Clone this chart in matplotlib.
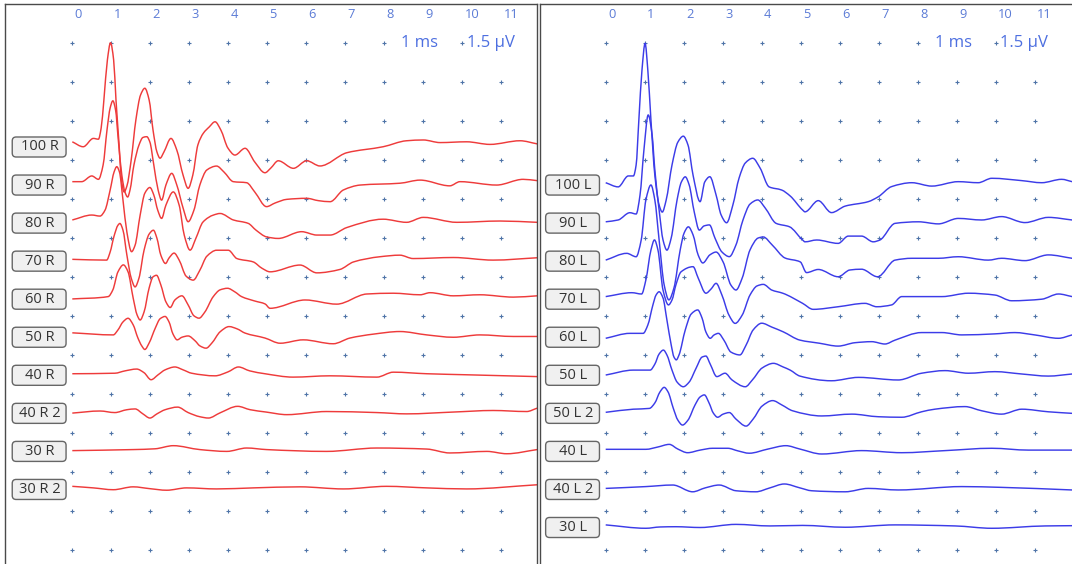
import numpy as np
import matplotlib
matplotlib.use("Agg")
import matplotlib.pyplot as plt
from matplotlib.patches import FancyBboxPatch, PathPatch
from matplotlib.path import Path

plt.rcParams['font.family'] = ['Open Sans', 'DejaVu Sans']

# ---- data: (latency ms, amplitude uV) ----
# right ear (red)
r100 = [(0.0, 0.20), (0.28, 0.01), (0.54, 0.33), (0.67, 0.30), (0.74, 0.73), (0.81, 1.81), (0.90, 3.35),
        (0.98, 4.01), (1.06, 3.35), (1.12, 1.81), (1.20, 0.08), (1.26, -1.27), (1.33, -1.73), (1.40, -1.50),
        (1.51, -0.50), (1.63, 1.04), (1.75, 2.00), (1.86, 2.26), (1.97, 1.81), (2.07, 0.65), (2.17, -0.19),
        (2.25, -0.43), (2.35, -0.19), (2.53, 0.33), (2.68, -0.12), (2.84, -1.08), (2.97, -1.59), (3.09, -1.08),
        (3.22, 0.08), (3.36, 0.53), (3.51, 0.77), (3.66, 0.97), (3.81, 0.65), (3.99, -0.04), (4.17, -0.31),
        (4.43, -0.05), (4.68, -0.58), (4.94, -0.99), (5.09, -0.81), (5.28, -0.53), (5.67, -0.82), (6.01, -0.53),
        (6.35, -0.73), (7.04, -0.22), (7.97, 0.01), (8.57, 0.24), (9.00, 0.27), (9.43, 0.17), (10.11, 0.20),
        (10.71, 0.10), (11.48, 0.24), (11.92, 0.12)]
r90 = [(0.0, 0.13), (0.24, 0.13), (0.50, 0.35), (0.67, 0.22), (0.79, 0.77), (0.89, 2.12), (0.97, 2.96),
       (1.04, 3.24), (1.11, 2.88), (1.18, 1.73), (1.27, 0.38), (1.35, -0.27), (1.42, -0.46), (1.48, -0.19),
       (1.58, 0.77), (1.71, 1.54), (1.81, 1.83), (1.91, 1.86), (1.99, 1.65), (2.09, 0.77), (2.20, -0.19),
       (2.29, -0.58), (2.40, 0.00), (2.55, 0.45), (2.68, 0.00), (2.84, -0.88), (2.97, -1.41), (3.12, -0.96),
       (3.27, 0.00), (3.45, 0.58), (3.70, 0.73), (3.89, 0.50), (4.13, 0.13), (4.47, 0.09), (4.68, -0.27),
       (4.98, -0.83), (5.20, -0.69), (5.50, -0.55), (6.01, -0.51), (6.31, -0.60), (6.61, -0.64), (6.95, -0.19),
       (7.38, 0.00), (8.40, 0.07), (8.92, 0.19), (9.68, -0.03), (9.94, 0.13), (10.88, 0.00), (11.56, 0.22),
       (11.92, 0.17)]
r80 = [(0.0, 0.12), (0.50, 0.31), (0.71, 0.27), (0.84, 0.50), (0.97, 1.27), (1.07, 1.96), (1.14, 2.17),
       (1.21, 1.96), (1.30, 0.88), (1.40, -0.35), (1.52, -1.10), (1.61, -0.85), (1.74, 0.31), (1.86, 1.15),
       (1.99, 1.37), (2.09, 1.08), (2.19, 0.50), (2.29, 0.18), (2.40, 0.69), (2.59, 1.20), (2.74, 0.69),
       (2.87, -0.46), (3.02, -1.04), (3.17, -0.58), (3.35, 0.04), (3.62, 0.31), (3.79, 0.37), (4.13, 0.12),
       (4.51, -0.01), (4.71, -0.27), (4.98, -0.53), (5.28, -0.59), (5.88, -0.33), (6.27, -0.46), (6.61, -0.46),
       (7.04, -0.17), (7.97, 0.15), (8.57, 0.03), (9.00, 0.22), (9.86, 0.03), (10.97, 0.08), (11.92, 0.03)]
r70 = [(0.0, 0.07), (0.88, 0.04), (0.97, 0.35), (1.07, 0.96), (1.17, 1.38), (1.22, 1.45), (1.30, 1.19),
       (1.40, 0.23), (1.51, -0.65), (1.61, -0.99), (1.71, -0.65), (1.84, 0.42), (1.97, 1.04), (2.08, 1.19),
       (2.17, 0.88), (2.27, 0.23), (2.39, -0.09), (2.48, 0.12), (2.61, 0.31), (2.74, 0.04), (2.92, -0.58),
       (3.10, -0.73), (3.27, -0.35), (3.45, 0.19), (3.70, 0.42), (4.00, 0.42), (4.22, 0.10), (4.64, -0.03),
       (4.86, -0.27), (5.07, -0.41), (5.84, -0.15), (6.27, -0.45), (6.86, -0.32), (7.21, -0.03), (7.89, 0.17),
       (8.40, 0.23), (8.74, 0.10), (9.77, 0.14), (10.79, 0.04), (11.92, 0.13)]
r60 = [(0.0, 0.01), (0.92, 0.10), (1.04, 0.36), (1.17, 1.05), (1.31, 1.32), (1.43, 1.05), (1.56, 0.05),
       (1.66, -0.60), (1.74, -0.80), (1.84, -0.49), (1.97, 0.43), (2.07, 0.86), (2.16, 0.92), (2.27, 0.55),
       (2.40, -0.10), (2.51, -0.32), (2.63, -0.03), (2.81, 0.13), (2.97, -0.22), (3.12, -0.64), (3.25, -0.73),
       (3.40, -0.49), (3.61, 0.09), (3.79, 0.36), (3.98, 0.42), (4.17, 0.28), (4.34, 0.10), (4.68, -0.07),
       (4.94, -0.18), (5.07, -0.35), (5.97, -0.03), (6.78, -0.19), (7.55, 0.20), (8.23, 0.23), (8.92, 0.17),
       (9.17, 0.25), (9.77, 0.13), (10.45, 0.17), (11.31, 0.08), (11.92, 0.13)]
r50 = [(0.0, 0.17), (1.05, 0.09), (1.17, 0.28), (1.30, 0.59), (1.43, 0.73), (1.56, 0.48), (1.68, -0.02),
       (1.78, -0.33), (1.86, -0.47), (1.97, -0.22), (2.13, 0.36), (2.25, 0.71), (2.38, 0.80), (2.48, 0.59),
       (2.58, 0.13), (2.69, -0.10), (2.81, 0.00), (2.97, 0.05), (3.15, -0.14), (3.27, -0.33), (3.43, -0.42),
       (3.58, -0.22), (3.79, 0.21), (4.02, 0.41), (4.23, 0.32), (4.43, 0.16), (4.94, -0.03), (5.33, -0.23),
       (5.92, -0.10), (6.69, -0.25), (7.12, -0.03), (7.72, 0.12), (8.40, 0.22), (9.09, 0.09), (9.77, 0.00),
       (10.45, 0.09), (11.31, 0.03), (11.92, 0.03)]
r40 = [(0.0, 0.06), (1.09, 0.08), (1.35, 0.17), (1.65, 0.24), (1.84, 0.10), (2.02, -0.17), (2.20, 0.02),
       (2.38, 0.21), (2.63, 0.32), (2.84, 0.21), (3.06, 0.08), (3.66, -0.02), (3.99, 0.13), (4.26, 0.32),
       (4.55, 0.17), (4.94, 0.06), (5.66, -0.07), (6.61, -0.02), (7.81, -0.07), (8.23, 0.12), (9.09, 0.06),
       (10.11, 0.02), (11.92, -0.05)]
r40b = [(0.0, 0.01), (0.71, 0.09), (1.09, 0.03), (1.40, 0.14), (1.61, 0.17), (1.81, -0.02), (1.99, -0.18),
        (2.17, -0.02), (2.38, 0.14), (2.70, 0.24), (2.97, 0.03), (3.27, -0.13), (3.49, -0.18), (3.79, 0.02),
        (4.24, 0.27), (4.56, 0.14), (4.97, 0.05), (5.50, -0.05), (6.52, 0.07), (7.81, 0.03), (8.57, -0.02),
        (9.77, 0.05), (10.79, 0.11), (11.65, 0.07), (11.92, 0.20)]
r30 = [(0.0, 0.03), (1.56, 0.07), (2.12, 0.10), (2.59, 0.22), (3.27, 0.07), (3.96, 0.00), (4.47, 0.13),
       (4.98, 0.07), (6.52, 0.00), (7.81, 0.13), (9.09, 0.09), (9.68, -0.06), (10.63, 0.00), (11.14, -0.09),
       (11.92, 0.07)]
r30b = [(0.0, 0.12), (0.54, 0.06), (1.05, -0.01), (1.56, 0.10), (1.99, 0.03), (2.42, -0.03), (2.93, 0.06),
        (3.70, 0.02), (4.64, 0.06), (5.84, 0.10), (6.95, 0.02), (8.06, 0.12), (9.09, 0.06), (10.11, 0.02),
        (11.92, 0.18)]

# left ear (blue)
l100 = [(0.0, 0.09), (0.32, -0.07), (0.58, 0.35), (0.71, 0.35), (0.78, 0.77), (0.85, 2.50), (0.93, 4.42),
        (1.01, 5.45), (1.08, 4.42), (1.16, 2.50), (1.26, 0.38), (1.37, -0.77), (1.45, -1.04), (1.55, -0.58),
        (1.70, 0.77), (1.85, 1.65), (1.99, 1.88), (2.11, 1.54), (2.24, 0.38), (2.42, -0.64), (2.54, 0.12),
        (2.67, 0.32), (2.83, -0.38), (2.96, -1.15), (3.10, -1.45), (3.26, -0.77), (3.42, 0.27), (3.58, 0.85),
        (3.77, 1.03), (3.96, 0.65), (4.19, -0.07), (4.51, -0.19), (4.73, -0.42), (5.05, -0.96), (5.11, -1.03),
        (5.45, -0.60), (5.79, -1.06), (6.14, -0.81), (6.73, -0.64), (6.99, -0.45), (7.33, -0.06), (7.85, 0.09),
        (8.36, -0.04), (9.04, 0.13), (9.55, 0.09), (9.90, 0.26), (10.67, 0.17), (11.18, 0.09), (11.69, 0.22),
        (11.96, 0.13)]
l90 = [(0.0, 0.05), (0.32, 0.12), (0.62, 0.40), (0.78, 0.35), (0.88, 1.08), (0.98, 2.81), (1.09, 4.16),
       (1.19, 3.39), (1.26, 2.04), (1.37, 0.50), (1.47, -0.65), (1.57, -1.04), (1.68, -0.57), (1.83, 0.89),
       (1.94, 1.58), (2.04, 1.78), (2.14, 1.47), (2.27, 0.43), (2.40, -0.27), (2.52, -0.11), (2.66, -0.07),
       (2.80, -0.57), (2.98, -1.11), (3.17, -1.29), (3.34, -0.84), (3.52, 0.12), (3.70, 0.73), (3.90, 0.89),
       (4.09, 0.58), (4.37, -0.01), (4.71, -0.14), (5.05, -0.65), (5.11, -0.72), (5.41, -0.65), (5.96, -0.78),
       (6.22, -0.50), (6.56, -0.50), (6.86, -0.72), (7.03, -0.65), (7.42, -0.01), (8.02, 0.05), (8.53, -0.03),
       (9.04, 0.18), (9.64, 0.12), (10.15, 0.25), (10.75, 0.02), (11.35, 0.22), (11.96, 0.12)]
l80 = [(0.0, 0.04), (0.54, 0.30), (0.78, 0.17), (0.91, 0.81), (1.03, 2.35), (1.16, 2.93), (1.26, 2.35),
       (1.37, 0.81), (1.50, -0.92), (1.62, -1.49), (1.75, -1.03), (1.91, 0.43), (2.01, 1.08), (2.12, 1.32),
       (2.24, 1.01), (2.37, 0.24), (2.49, -0.07), (2.67, 0.24), (2.83, 0.35), (3.01, -0.03), (3.21, -0.92),
       (3.34, -1.11), (3.50, -0.65), (3.70, 0.43), (3.91, 0.89), (4.04, 0.93), (4.27, 0.62), (4.60, 0.12),
       (4.99, -0.03), (5.15, -0.44), (5.45, -0.32), (5.96, -0.60), (6.26, -0.34), (6.56, -0.31), (6.97, -0.60),
       (7.42, 0.04), (7.85, 0.11), (8.53, 0.11), (9.04, 0.17), (9.81, 0.04), (10.15, 0.11), (10.75, 0.02),
       (11.35, 0.24), (11.96, 0.11)]
l70 = [(0.0, 0.10), (0.67, 0.25), (0.92, 0.20), (1.03, 0.74), (1.16, 1.89), (1.25, 2.28), (1.34, 1.89),
       (1.47, 0.35), (1.61, -0.22), (1.70, -0.03), (1.80, 0.55), (1.93, 1.05), (2.24, 1.25), (2.37, 0.82),
       (2.57, 0.23), (2.70, 0.39), (2.83, 0.61), (2.98, 0.16), (3.16, -0.61), (3.32, -0.93), (3.50, -0.61),
       (3.70, 0.16), (3.88, 0.51), (4.04, 0.57), (4.26, 0.35), (4.54, 0.23), (5.05, -0.16), (5.32, -0.39),
       (5.96, -0.29), (6.65, -0.16), (6.95, -0.29), (7.33, -0.22), (7.59, 0.10), (8.62, 0.10), (9.30, 0.23),
       (9.98, 0.16), (10.41, -0.06), (11.18, 0.00), (11.61, 0.20), (11.96, 0.10)]
l60 = [(0.0, -0.04), (0.62, 0.15), (0.96, 0.15), (1.08, 0.47), (1.21, 1.24), (1.29, 1.62), (1.37, 1.75),
       (1.47, 1.51), (1.57, 0.66), (1.68, -0.30), (1.75, -0.76), (1.81, -0.87), (1.88, -0.68), (2.04, 0.28),
       (2.19, 0.89), (2.36, 1.05), (2.47, 0.74), (2.57, 0.20), (2.68, -0.04), (2.78, 0.09), (2.89, 0.15),
       (3.03, -0.11), (3.21, -0.57), (3.44, -0.68), (3.60, -0.30), (3.78, 0.28), (4.00, 0.54), (4.26, 0.39),
       (4.55, 0.21), (4.98, -0.11), (5.48, -0.23), (5.96, -0.34), (6.39, -0.21), (6.82, -0.17), (7.16, -0.26),
       (7.42, -0.11), (8.10, 0.18), (8.62, 0.18), (9.13, 0.09), (9.98, 0.13), (10.49, 0.18), (11.00, 0.09),
       (11.61, -0.04), (11.96, 0.09)]
l50 = [(0.0, 0.01), (0.71, 0.20), (1.14, 0.20), (1.26, 0.43), (1.37, 0.82), (1.48, 0.97), (1.57, 0.78),
       (1.70, 0.20), (1.83, -0.26), (1.99, -0.44), (2.14, -0.26), (2.32, 0.28), (2.47, 0.70), (2.57, 0.74),
       (2.68, 0.43), (2.85, -0.05), (3.06, 0.08), (3.24, -0.18), (3.58, -0.44), (3.76, -0.18), (4.01, 0.28),
       (4.30, 0.46), (4.55, 0.32), (4.73, 0.20), (4.98, -0.03), (5.79, -0.21), (6.48, -0.08), (7.50, -0.18),
       (8.10, 0.08), (8.70, 0.18), (9.30, 0.08), (9.98, 0.14), (10.67, 0.05), (11.35, -0.03), (11.96, 0.05)]
l50b = [(0.0, 0.04), (0.71, 0.16), (1.12, 0.19), (1.26, 0.40), (1.39, 0.82), (1.50, 1.00), (1.60, 0.82),
        (1.73, 0.21), (1.85, -0.26), (1.97, -0.45), (2.11, -0.26), (2.29, 0.32), (2.42, 0.63), (2.53, 0.71),
        (2.65, 0.40), (2.76, 0.01), (2.87, -0.15), (3.01, -0.03), (3.17, 0.03), (3.34, -0.22), (3.60, -0.49),
        (3.78, -0.22), (4.01, 0.28), (4.28, 0.49), (4.52, 0.32), (4.79, 0.10), (5.54, -0.10), (6.31, -0.03),
        (6.99, -0.13), (7.59, -0.15), (8.10, 0.06), (8.44, 0.16), (9.21, 0.26), (9.64, 0.10), (10.15, -0.03),
        (10.67, 0.16), (11.35, 0.06), (11.96, 0.00)]
l40 = [(0.0, 0.08), (1.03, 0.08), (1.34, 0.17), (1.63, 0.27), (1.85, 0.09), (2.10, -0.05), (2.42, 0.05),
       (2.74, 0.12), (3.13, 0.12), (3.39, 0.02), (3.68, -0.07), (4.16, 0.09), (4.62, 0.22), (4.98, 0.09),
       (5.54, -0.10), (6.56, 0.03), (7.59, -0.05), (8.70, 0.03), (9.90, 0.12), (10.84, 0.05), (11.96, 0.05)]
l40b = [(0.0, 0.04), (1.03, 0.11), (1.72, 0.17), (2.23, -0.09), (2.55, 0.06), (2.91, 0.17), (3.34, -0.05),
        (3.85, -0.09), (4.21, 0.06), (4.58, 0.21), (4.98, 0.06), (5.28, -0.05), (6.14, -0.09), (6.73, 0.04),
        (7.50, -0.02), (9.13, 0.11), (10.15, 0.08), (11.96, -0.02)]
l30 = [(0.0, 0.10), (1.03, -0.03), (1.39, 0.02), (1.80, 0.03), (2.42, 0.00), (3.34, 0.12), (4.21, 0.06),
       (5.05, 0.08), (6.14, 0.01), (7.42, 0.10), (8.96, 0.06), (9.90, -0.03), (11.27, 0.06), (11.96, 0.07)]

right_labels = ["100 R", "90 R", "80 R", "70 R", "60 R", "50 R", "40 R", "40 R 2", "30 R", "30 R 2"]
right_traces = [r100, r90, r80, r70, r60, r50, r40, r40b, r30, r30b]
left_labels = ["100 L", "90 L", "80 L", "70 L", "60 L", "50 L", "50 L 2", "40 L", "40 L 2", "30 L"]
left_traces = [l100, l90, l80, l70, l60, l50, l50b, l40, l40b, l30]
ms_ticks = list(range(12))

# ---- layout (pixels of the 1072x564 canvas) ----
W, H = 1072, 564
PX_MS, PX_UV = 39.0, 26.0          # 1 ms = 39 px, 1 uV = 26 px
Y_BOTTOM = 600                      # axes run past the lower edge
TOP_BASE = (Y_BOTTOM - 147) / PX_UV # baseline of the first slot
SLOT = 38.05 / PX_UV                # spacing between stacked traces
DOT_ROW0 = (Y_BOTTOM - 43) / PX_UV

fig = plt.figure(figsize=(W / 100, H / 100), dpi=100)


def smooth_path(t, v):
    # monotone cubic (Fritsch-Carlson) drawn as Bezier segments through the read points
    t = np.asarray(t, float)
    v = np.asarray(v, float)
    h = np.diff(t)
    d = np.diff(v) / h
    m = np.zeros_like(v)
    m[0], m[-1] = d[0], d[-1]
    for i in range(1, len(v) - 1):
        if d[i - 1] * d[i] > 0:
            w1 = 2 * h[i] + h[i - 1]
            w2 = h[i] + 2 * h[i - 1]
            m[i] = (w1 + w2) / (w1 / d[i - 1] + w2 / d[i])
    verts = [(t[0], v[0])]
    codes = [Path.MOVETO]
    for i in range(len(h)):
        verts += [(t[i] + h[i] / 3, v[i] + m[i] * h[i] / 3),
                  (t[i + 1] - h[i] / 3, v[i + 1] - m[i + 1] * h[i] / 3),
                  (t[i + 1], v[i + 1])]
        codes += [Path.CURVE4] * 3
    return Path(verts, codes)


def make_panel(x0, x1, t0_px, show_right):
    ax = fig.add_axes([x0 / W, 1 - Y_BOTTOM / H, (x1 - x0) / W, (Y_BOTTOM - 4) / H])
    ax.set_xlim((x0 - t0_px) / PX_MS, (x1 - t0_px) / PX_MS)
    ax.set_ylim(0, (Y_BOTTOM - 4) / PX_UV)
    ax.set_xticks([])
    ax.set_yticks([])
    for s in ax.spines.values():
        s.set_color('#4a4a4a')
        s.set_linewidth(1.0)
    ax.spines['bottom'].set_visible(False)
    ax.spines['right'].set_visible(show_right)
    # dot grid: one mark per ms and per 1.5 uV
    for j in range(14):
        ax.plot(range(13), [DOT_ROW0 - 1.5 * j] * 13, ls='none', marker='+',
                ms=3, mew=0.8, color='#4f74a8', zorder=1)
    for k in ms_ticks:
        ax.text(k + 0.06, (Y_BOTTOM - 15) / PX_UV, str(k), ha='left', va='center',
                fontsize=9.3, color='#5b7bd6')
    box = dict(facecolor='white', edgecolor='none', pad=0.6)
    ax.text(8.44, DOT_ROW0, "1 ms", ha='left', va='center', fontsize=12,
            color='#4d6fe0', bbox=box, zorder=3)
    ax.text(10.12, DOT_ROW0, "1.5 \u00b5V", ha='left', va='center', fontsize=12,
            color='#4d6fe0', bbox=box, zorder=3)
    return ax


def draw_traces(ax, traces, labels, first_slot, color):
    for i, (tr, lab) in enumerate(zip(traces, labels)):
        base = TOP_BASE - SLOT * (first_slot + i)
        t = [p[0] for p in tr]
        v = [base + p[1] for p in tr]
        ax.add_patch(PathPatch(smooth_path(t, v), fill=False, ec=color, lw=1.05,
                               zorder=2, joinstyle='round'))
        ax.add_patch(FancyBboxPatch((-1.54, base - 0.385), 1.38, 0.77,
                                    boxstyle="round,pad=0,rounding_size=0.1",
                                    mutation_aspect=1.5, fc='#f0f0f0', ec='#666666',
                                    lw=1.0, zorder=4))
        ax.text(-0.83, base, lab, ha='center', va='center', fontsize=10.5,
                color='#333333', zorder=5)


axL = make_panel(5, 537, 72.3, True)
axR = make_panel(540, 1080, 605.7, False)
draw_traces(axL, right_traces, right_labels, 0, '#ee3b3b')
draw_traces(axR, left_traces, left_labels, 1, '#3c3ce8')

fig.savefig('out.png', dpi=100)
